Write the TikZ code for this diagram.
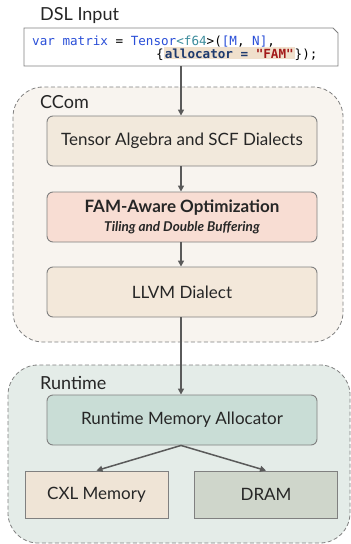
\documentclass[tikz,border=0pt]{standalone}
\usepackage{fontspec}
\setmainfont{Lato}
\newfontfamily\codefont{DejaVu Sans Mono}
\usetikzlibrary{arrows.meta}
\definecolor{cbord}{HTML}{808080}
\definecolor{arrowc}{HTML}{5A5A5A}
\definecolor{ccomfill}{HTML}{F8F4EF}
\definecolor{rtfill}{HTML}{E4ECE8}
\definecolor{tensfill}{HTML}{F2E9DC}
\definecolor{famfill}{HTML}{F8DDD3}
\definecolor{llvmfill}{HTML}{F3E8DA}
\definecolor{rmafill}{HTML}{C9DDD6}
\definecolor{cxlfill}{HTML}{EFE4D6}
\definecolor{dramfill}{HTML}{CFD6CB}
\definecolor{kwblue}{HTML}{2A4FD8}
\definecolor{kwteal}{HTML}{3C8C9C}
\definecolor{kwnavy}{HTML}{1E3A6E}
\definecolor{kwred}{HTML}{A31A1A}
\definecolor{hl}{HTML}{F0E0CC}
\definecolor{txt}{HTML}{262626}
\tikzset{
  container/.style={draw=cbord, line width=0.8pt, dash pattern=on 4pt off 2.5pt, rounded corners=30pt},
  stagebox/.style={draw=cbord, line width=0.9pt, rounded corners=6pt, minimum width=270pt, minimum height=50pt, text=txt, font=\fontsize{17}{20}\selectfont, align=center},
  membox/.style={draw=cbord, line width=0.9pt, minimum width=143pt, minimum height=47pt, text=txt, font=\fontsize{17}{20}\selectfont},
  grouplabel/.style={anchor=base west, text=txt, font=\fontsize{18}{21}\selectfont, inner sep=0pt},
  codeline/.style={anchor=base west, inner sep=0pt, font=\codefont\fontsize{12.6}{13}\selectfont},
  flow/.style={draw=arrowc, line width=1.5pt, -{Triangle[length=6pt,width=6pt]}}
}
\begin{document}
\begin{tikzpicture}[x=1pt,y=-1pt]
\useasboundingbox (0,0) rectangle (351,544);
% containers
\path[container, fill=ccomfill] (13,87) rectangle (343,342);
\path[container, fill=rtfill] (8,365) rectangle (350,543);
% labels
\node[grouplabel] (dsllabel) at (40,20) {DSL Input};
\node[grouplabel] (ccomlabel) at (40,108) {CCom};
\node[grouplabel] (rtlabel) at (40,389) {Runtime};
% code box
\draw[draw=cbord, line width=0.9pt, fill=white] (24,28) -- (333,28) -- (338,33) -- (338,66) -- (24,66) -- cycle;
\coordinate (codebot) at (181,66);
\node[codeline] (code1) at (32,45) {\textcolor{kwblue}{var matrix} = \textcolor{kwblue}{Tensor}\textcolor{kwteal}{<f64}>(\textcolor{kwblue}{[M}, \textcolor{kwblue}{N]},};
\node[codeline] (code2) at (156,58) {\{{\setlength{\fboxsep}{1pt}\colorbox{hl}{\textbf{\textcolor{kwnavy}{allocator = }\textcolor{kwred}{"FAM"}}}}\});};
% stages
\node[stagebox, fill=tensfill] (tensor) at (182,141) {Tensor Algebra and SCF Dialects};
\node[stagebox, fill=famfill] (fam) at (182,217) {{\fontsize{17}{20}\selectfont\bfseries FAM-Aware Optimization}\\[-1pt]{\fontsize{13.5}{15}\selectfont\bfseries\itshape Tiling and Double Buffering}};
\node[stagebox, fill=llvmfill] (llvm) at (182,292) {LLVM Dialect};
\node[stagebox, fill=rmafill] (rma) at (182,420) {Runtime Memory Allocator};
\node[membox, fill=cxlfill] (cxl) at (96.5,494.5) {CXL Memory};
\node[membox, fill=dramfill] (dram) at (266,494.5) {DRAM};
% connectors
\draw[flow] (codebot) -- (tensor.north -| codebot);
\draw[flow] (tensor.south -| codebot) -- (fam.north -| codebot);
\draw[flow] (fam.south -| codebot) -- (llvm.north -| codebot);
\draw[flow] (llvm.south -| codebot) -- (rma.north -| codebot);
\draw[flow] (rma.south -| codebot) -- (cxl.north);
\draw[flow] (rma.south -| codebot) -- (dram.north);
\end{tikzpicture}
\end{document}
